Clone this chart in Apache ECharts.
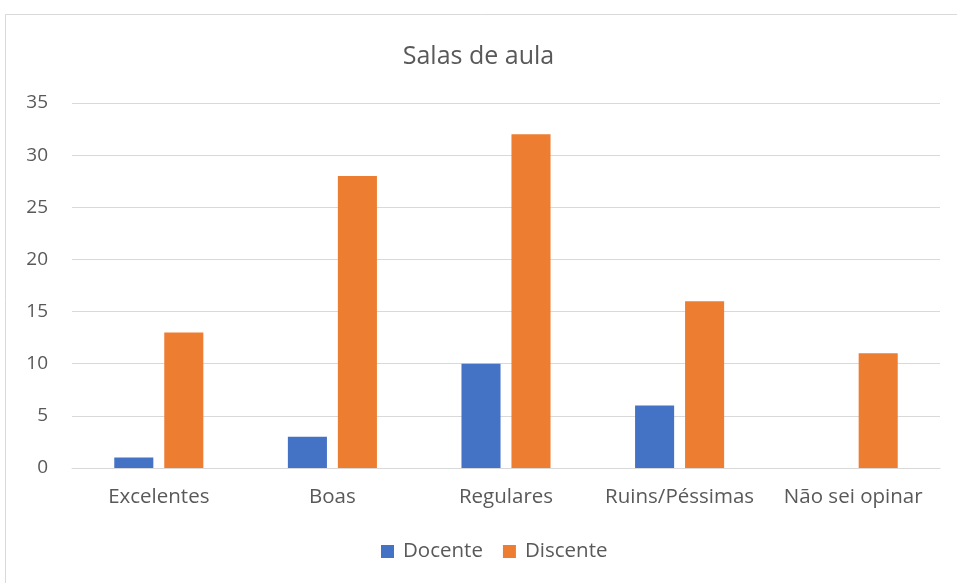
<!DOCTYPE html>
<html>
<head>
<meta charset="utf-8">
<script src="https://cdn.jsdelivr.net/npm/echarts@6/dist/echarts.min.js"></script>
<style>
  html, body { margin: 0; padding: 0; background: #fff; }
  #chart { width: 957px; height: 583px; }
</style>
</head>
<body>
<div id="chart"></div>
<script>
var categories = ['Excelentes', 'Boas', 'Regulares', 'Ruins/Péssimas', 'Não sei opinar'];
var docente = [1, 3, 10, 6, 0];
var discente = [13, 28, 32, 16, 11];

var textColor = '#595959';
var font = '"Open Sans", "Noto Sans", sans-serif';

var chart = echarts.init(document.getElementById('chart'));
chart.setOption({
    animation: false,
    color: ['#4472C4', '#ED7D31'],
    textStyle: { fontFamily: font },
    graphic: [{
        type: 'rect',
        shape: { x: 5.5, y: 14.5, width: 960, height: 600 },
        style: { fill: 'none', stroke: '#d9d9d9', lineWidth: 1 },
        silent: true
    }],
    title: {
        text: 'Salas de aula',
        left: 'center',
        top: 39,
        textStyle: { color: textColor, fontSize: 25, fontWeight: 'normal', fontFamily: font }
    },
    legend: {
        data: ['Docente', 'Discente'],
        bottom: 16,
        left: 376,
        itemWidth: 13,
        itemHeight: 13,
        itemGap: 20,
        icon: 'rect',
        textStyle: { color: textColor, fontSize: 20.5, fontFamily: font, padding: [0, 0, 0, 4] }
    },
    grid: { left: 72, right: 17, top: 103, bottom: 115 },
    xAxis: {
        type: 'category',
        data: categories,
        axisLine: { lineStyle: { color: '#d9d9d9' } },
        axisTick: { show: false },
        axisLabel: { color: textColor, fontSize: 20.5, margin: 19, interval: 0 }
    },
    yAxis: {
        type: 'value',
        min: 0,
        max: 35,
        interval: 5,
        axisLine: { show: false },
        axisTick: { show: false },
        splitLine: { lineStyle: { color: '#d9d9d9' } },
        axisLabel: { color: textColor, fontSize: 19, margin: 24 }
    },
    series: [
        { type: 'bar', name: 'Docente', data: docente, barWidth: '22.5%', barGap: '28%' },
        { type: 'bar', name: 'Discente', data: discente, barWidth: '22.5%', barGap: '28%' }
    ]
});
</script>
</body>
</html>
